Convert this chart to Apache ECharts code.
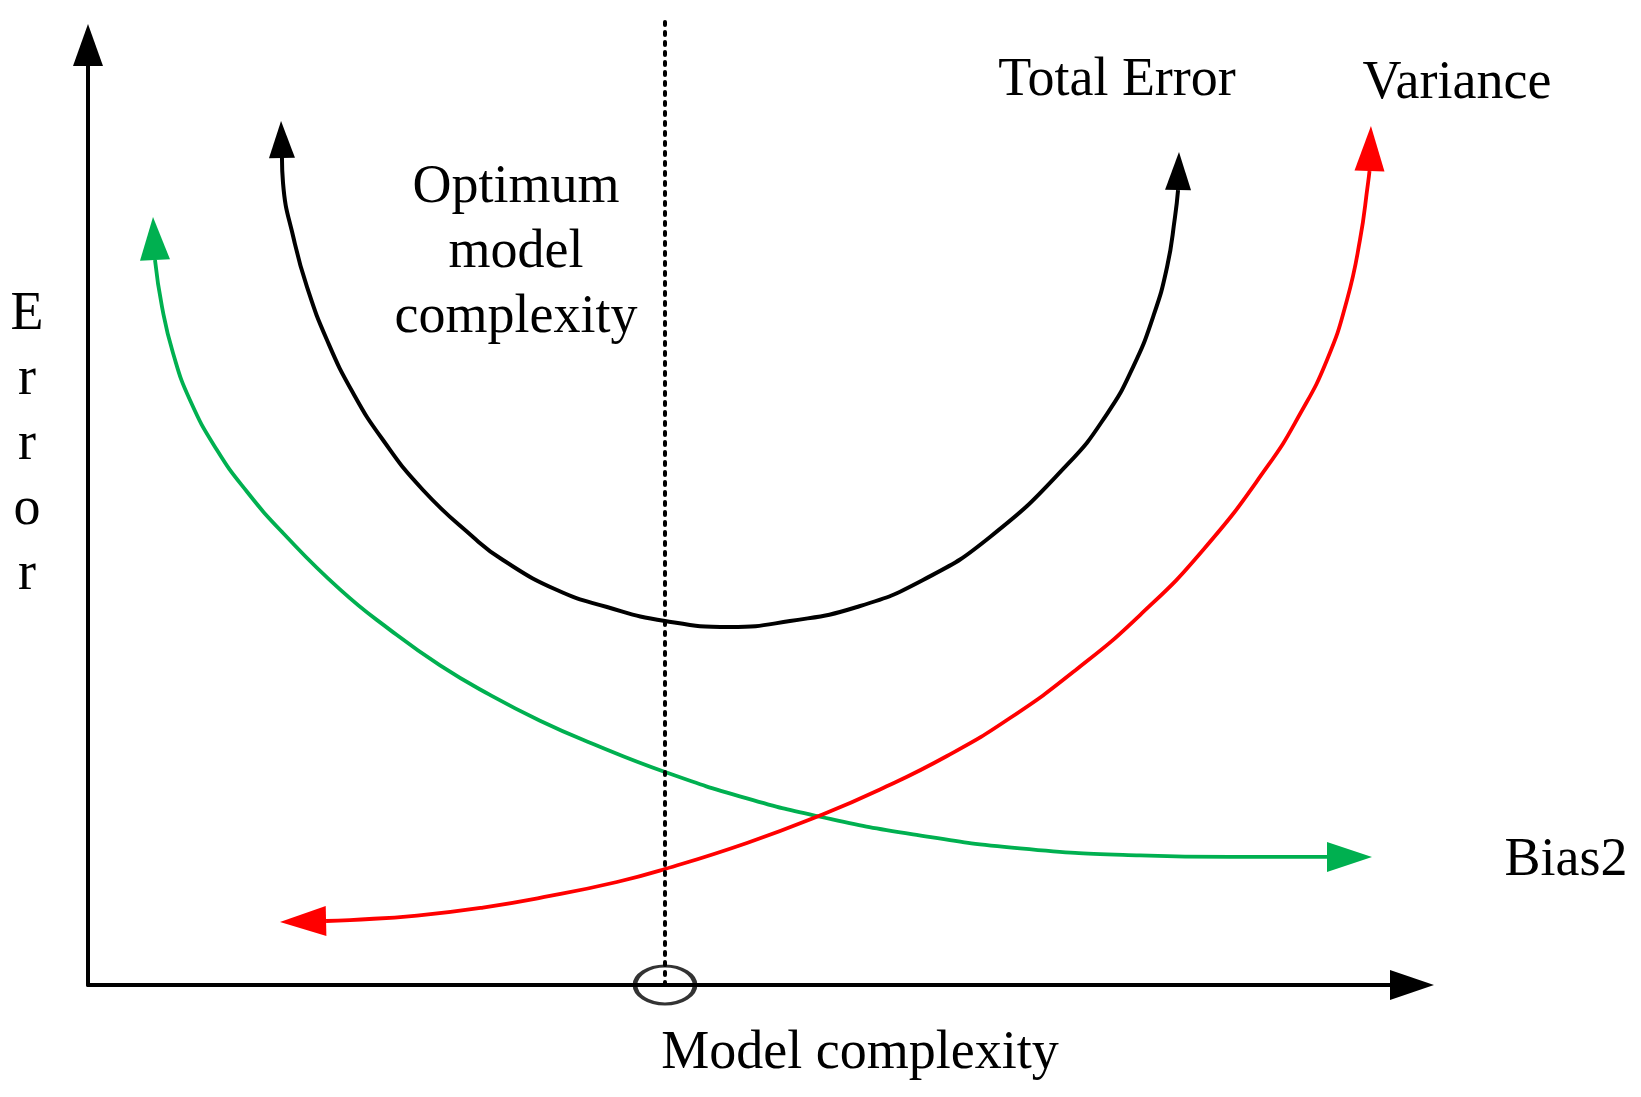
<!DOCTYPE html>
<html>
<head>
<meta charset="utf-8">
<title>Bias / Variance</title>
<script src="https://cdn.jsdelivr.net/npm/echarts@6/dist/echarts.min.js"></script>
<style>
  html, body { margin: 0; padding: 0; background: #fff; }
  #chart { width: 1641px; height: 1097px; }
</style>
</head>
<body>
<div id="chart"></div>
<script>
  // curve points (x: model complexity, y: error, both 0-100)
  var totalError = [
    [14.65, 87.98], [14.73, 85.32], [15.56, 79.26], [16.54, 74.26], [18.05, 68.62],
    [20.02, 62.98], [22.28, 57.98], [25.30, 52.66], [29.08, 47.66], [31.34, 45.21],
    [35.42, 42.02], [39.20, 40.21], [43.58, 38.72], [48.49, 38.09], [53.02, 38.72],
    [58.08, 40.21], [63.07, 43.09], [68.13, 47.66], [73.94, 55.32], [76.96, 60.74],
    [78.93, 65.74], [80.44, 71.06], [81.50, 76.38], [82.10, 81.70], [82.33, 84.57]
  ];
  var bias2 = [
    [5.06, 77.13], [5.59, 72.13], [6.42, 67.23], [7.70, 62.23], [9.74, 56.91],
    [12.01, 52.47], [14.73, 48.09], [19.03, 42.09], [22.81, 37.78], [26.59, 34.00],
    [30.36, 30.86], [34.14, 28.12], [37.92, 25.78], [43.58, 22.66], [49.77, 19.85],
    [55.29, 17.90], [62.31, 16.02], [70.39, 14.54], [79.46, 13.78], [86.25, 13.62],
    [93.58, 13.62]
  ];
  var variance = [
    [17.98, 6.81], [19.79, 6.91], [24.85, 7.39], [29.83, 8.24], [34.89, 9.47],
    [39.95, 10.96], [43.58, 12.34], [49.77, 15.11], [55.29, 18.03], [59.82, 20.80],
    [64.88, 24.36], [69.64, 28.40], [74.70, 33.62], [79.46, 39.36], [84.22, 46.28],
    [89.05, 55.11], [91.54, 60.74], [93.58, 66.49], [95.09, 72.87], [96.07, 79.26],
    [96.68, 85.32], [96.79, 86.60]
  ];
  // arrow tips at both ends of each curve
  var totalErrorTips = [[14.58, 91.91], [82.40, 88.62]];
  var bias2Tips = [[4.91, 81.70], [96.98, 13.62]];
  var varianceTips = [[14.50, 6.70], [96.90, 91.38]];
  // optimum complexity marker
  var optimumX = 43.58;
  var dottedTop = 102.45;

  var BLACK = '#000000', GREEN = '#00B050', RED = '#FF0000';
  var FONT = '"Liberation Serif", "Times New Roman", serif';

  function arrowItem(tip, base, color, halfWidth) {
    return {value: [tip[0], tip[1], base[0], base[1]], color: color, hw: halfWidth};
  }
  var arrows = [
    arrowItem(totalErrorTips[0], totalError[0], BLACK, 13),
    arrowItem(totalErrorTips[1], totalError[totalError.length - 1], BLACK, 13),
    arrowItem(bias2Tips[0], bias2[0], GREEN, 15),
    arrowItem(bias2Tips[1], bias2[bias2.length - 1], GREEN, 15),
    arrowItem(varianceTips[0], variance[0], RED, 15),
    arrowItem(varianceTips[1], variance[variance.length - 1], RED, 15)
  ];

  function renderArrow(params, api) {
    var item = arrows[params.dataIndex];
    var tip = api.coord([api.value(0), api.value(1)]);
    var base = api.coord([api.value(2), api.value(3)]);
    var dx = tip[0] - base[0], dy = tip[1] - base[1];
    var len = Math.sqrt(dx * dx + dy * dy) || 1;
    var nx = -dy / len * item.hw, ny = dx / len * item.hw;
    return {
      type: 'polygon',
      shape: {points: [tip, [base[0] + nx, base[1] + ny], [base[0] - nx, base[1] - ny]]},
      style: {fill: item.color}
    };
  }

  function curve(name, data, color, width) {
    return {
      name: name, type: 'line', data: data, smooth: 0.5, symbol: 'none',
      lineStyle: {color: color, width: width}, silent: true
    };
  }

  function axis(size) {
    return {
      type: 'value', min: 0, max: 100,
      axisLine: {
        show: true, onZero: false,
        symbol: ['none', 'triangle'], symbolSize: size,
        lineStyle: {color: BLACK, width: 4}
      },
      axisTick: {show: false},
      axisLabel: {show: false},
      splitLine: {show: false}
    };
  }

  function label(text, x, y, valign) {
    return {
      type: 'text', x: x, y: y, silent: true,
      style: {
        text: text, fill: BLACK, font: '54px ' + FONT, lineHeight: 65,
        align: 'center', verticalAlign: valign || 'middle'
      }
    };
  }

  var chart = echarts.init(document.getElementById('chart'), null, {renderer: 'canvas'});
  chart.setOption({
    animation: false,
    backgroundColor: '#ffffff',
    grid: {left: 88, right: 229, top: 45, bottom: 112},
    xAxis: axis([30, 44]),
    yAxis: axis([30, 42]),
    series: [
      curve('Total Error', totalError, BLACK, 4),
      curve('Bias2', bias2, GREEN, 3.8),
      curve('Variance', variance, RED, 3.8),
      {
        type: 'custom', name: 'arrows', renderItem: renderArrow,
        data: arrows.map(function (a) { return a.value; }), silent: true
      },
      {
        // dotted line at the optimum
        type: 'line', name: 'optimum', data: [[optimumX, 0], [optimumX, dottedTop]],
        symbol: 'none', clip: false, silent: true,
        lineStyle: {color: BLACK, width: 4, type: [3, 7], cap: 'round'}
      },
      {
        type: 'scatter', name: 'optimumMark', data: [[optimumX, 0]], clip: false,
        symbol: 'circle', symbolSize: [60, 38], silent: true,
        itemStyle: {color: 'rgba(0,0,0,0)', borderColor: BLACK, borderWidth: 3.8}
      }
    ],
    graphic: [
      label('Total Error', 1117, 81),
      label('Variance', 1457, 84),
      label('Optimum\nmodel\ncomplexity', 516, 155.5, 'top'),
      label('E\nr\nr\no\nr', 27, 282, 'top'),
      label('Bias2', 1566, 861),
      label('Model complexity', 860, 1054)
    ]
  });
</script>
</body>
</html>
